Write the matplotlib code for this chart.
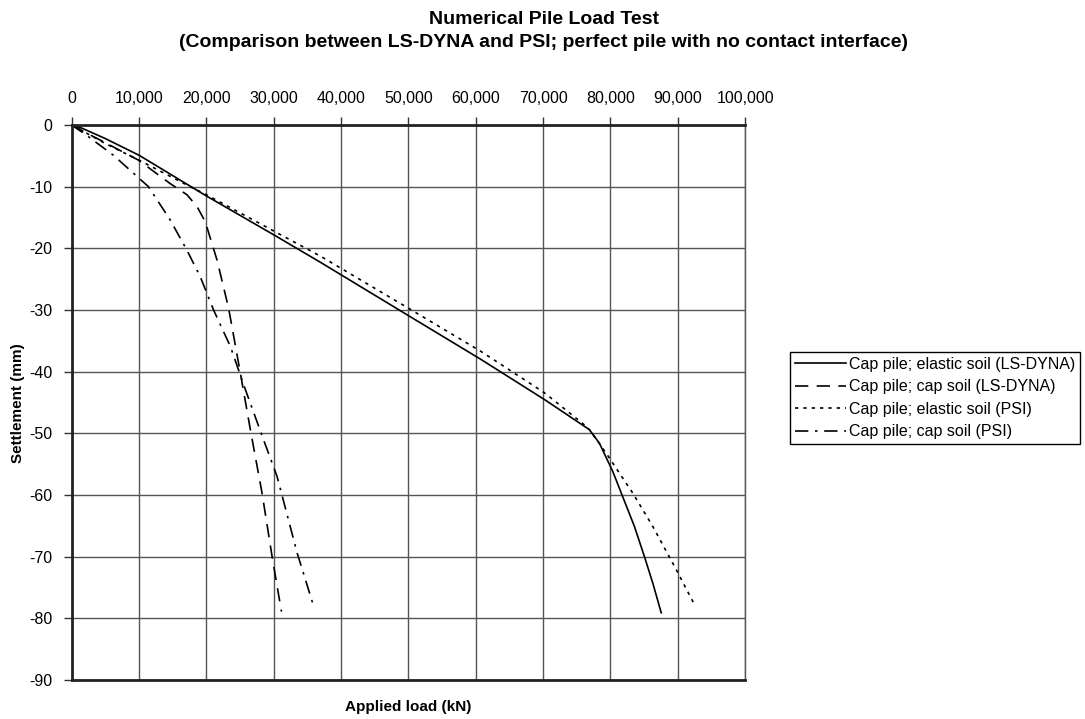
import matplotlib
matplotlib.use("Agg")
import matplotlib.pyplot as plt
from matplotlib.ticker import FuncFormatter

plt.rcParams["font.family"] = ["Liberation Sans", "DejaVu Sans"]
plt.rcParams["axes.unicode_minus"] = False

# Cap pile; elastic soil (LS-DYNA)
load_ls_elastic = [0, 1500, 5000, 10000, 15000, 20000, 30000, 37000, 50000, 60760,
                   70330, 76880, 78370, 80360, 83570, 85060, 86300, 87550]
settle_ls_elastic = [0, -0.5, -2.2, -4.9, -8.2, -11.5, -17.8, -22.3, -30.9, -38.0,
                     -44.6, -49.4, -51.6, -56.2, -65.1, -70.0, -74.3, -79.1]

# Cap pile; cap soil (LS-DYNA)
load_ls_cap = [0, 2000, 4700, 9920, 14630, 17110, 18600, 19840, 21580, 23300,
               25040, 26530, 28270, 29760, 31150]
settle_ls_cap = [0, -1.2, -2.7, -5.7, -9.5, -11.3, -13.2, -15.7, -21.9, -29.7,
                 -40.2, -49.4, -59.7, -70.0, -78.9]

# Cap pile; elastic soil (PSI)
load_psi_elastic = [0, 2000, 5000, 10000, 17600, 20000, 37000, 50000, 60760, 70180,
                    75890, 76880, 79360, 83330, 86300, 89780, 92500]
settle_psi_elastic = [0, -1.2, -3.0, -5.7, -10.0, -11.3, -21.3, -29.7, -36.7, -43.4,
                      -48.4, -49.4, -53.2, -59.7, -65.1, -72.1, -77.8]

# Cap pile; cap soil (PSI)
load_psi_cap = [0, 2000, 6190, 11400, 14630, 17110, 19090, 21070, 23560, 25790,
                28510, 30500, 33480, 35950]
settle_psi_cap = [0, -1.5, -4.9, -10.0, -15.4, -20.3, -24.6, -30.0, -35.9, -42.9,
                  -51.1, -57.0, -69.4, -78.1]

x_ticks = list(range(0, 100001, 10000))
y_ticks = list(range(0, -91, -10))

fig = plt.figure(figsize=(10.85, 7.19), dpi=100)
ax = fig.add_axes([0.0661, 0.0542, 0.6206, 0.7719])

ax.plot(load_ls_elastic, settle_ls_elastic, color="black", lw=1.2, ls="-",
        label="Cap pile; elastic soil (LS-DYNA)")
ax.plot(load_ls_cap, settle_ls_cap, color="black", lw=1.2, ls=(0, (8, 5)),
        label="Cap pile; cap soil (LS-DYNA)")
ax.plot(load_psi_elastic, settle_psi_elastic, color="black", lw=1.2, ls=(0, (2, 3)),
        label="Cap pile; elastic soil (PSI)")
ax.plot(load_psi_cap, settle_psi_cap, color="black", lw=1.2, ls=(0, (8, 4, 1.5, 4)),
        label="Cap pile; cap soil (PSI)")

ax.set_xlim(0, 100000)
ax.set_ylim(-90, 0)
ax.set_xticks(x_ticks)
ax.set_yticks(y_ticks)
ax.xaxis.set_major_formatter(FuncFormatter(lambda v, p: f"{int(v):,}"))
ax.xaxis.tick_top()
ax.tick_params(axis="both", direction="out", length=6, width=1, color="#333333",
               labelsize=11.5, pad=8)
ax.grid(True, color="#555555", lw=1)
ax.set_axisbelow(True)

for side in ["top", "left", "bottom"]:
    ax.spines[side].set_linewidth(2)
    ax.spines[side].set_color("#222222")
ax.spines["right"].set_linewidth(1)
ax.spines["right"].set_color("#555555")

fig.text(18 / 1085, 0.44, "Settlement (mm)", rotation=90, ha="center", va="center",
         fontsize=11, fontweight="bold")
fig.text(0.376, 0.016, "Applied load (kN)", ha="center", va="center",
         fontsize=11, fontweight="bold")
fig.text(0.501, 1 - 31 / 719,
         "Numerical Pile Load Test\n(Comparison between LS-DYNA and PSI; perfect pile with no contact interface)",
         ha="center", va="center", fontsize=14, fontweight="bold", linespacing=1.5)

leg = ax.legend(loc="upper left", bbox_to_anchor=(0.728, 0.5104),
                bbox_transform=fig.transFigure, fontsize=11.5, frameon=True,
                fancybox=False, edgecolor="black", framealpha=1,
                handlelength=3.2, handletextpad=0.2, borderpad=0.3,
                labelspacing=0.47, borderaxespad=0)
leg.get_frame().set_linewidth(1)

fig.savefig("out.png", dpi=100)
